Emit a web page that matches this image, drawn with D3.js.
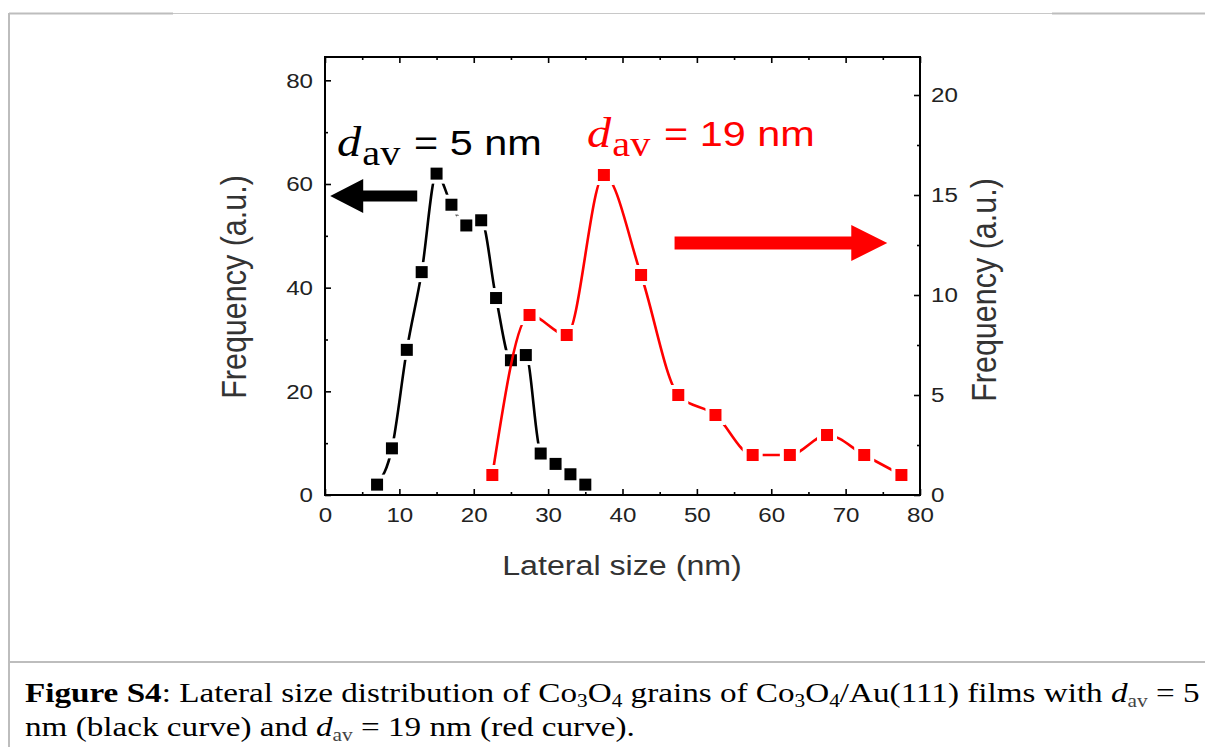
<!DOCTYPE html>
<html><head><meta charset="utf-8">
<script src="https://cdn.jsdelivr.net/npm/d3@7"></script>
<style>body{margin:0;background:#fff} svg{display:block}</style>
</head><body>
<svg id="c" width="1205" height="747"></svg>
<script>
// ---- data ----
const blackX = [7, 9, 11, 13, 15, 17, 19, 21, 23, 25, 27, 29, 31, 33, 35];
const blackY = [2, 9, 28, 43, 62, 56, 52, 53, 38, 26, 27, 8, 6, 4, 2];
const redX = [22.5, 27.5, 32.5, 37.5, 42.5, 47.5, 52.5, 57.5, 62.5, 67.5, 72.5, 77.5];
const redY = [1, 9, 8, 16, 11, 5, 4, 2, 2, 3, 2, 1];
const xTicks = [0, 10, 20, 30, 40, 50, 60, 70, 80];
const xMinor = [5, 15, 25, 35, 45, 55, 65, 75];
const yLeftTicks = [0, 20, 40, 60, 80];
const yLeftMinor = [10, 30, 50, 70];
const yRightTicks = [0, 5, 10, 15, 20];
const yRightMinor = [2.5, 7.5, 12.5, 17.5];
const xLabel = "Lateral size (nm)";
const yLabel = "Frequency (a.u.)";
// arrows in data coords: [x0, x1, y] (left axis for black, right axis for red)
const blackArrow = [12.4, 0.7, 57.7];
const redArrow = [47.0, 75.6, 12.6];

// ---- layout ----
const svg = d3.select("#c");
const L = 325, R = 920, T = 57, B = 495;
const SX = 1.15; // horizontal stretch of the original picture's text
const x = d3.scaleLinear().domain([0, 80]).range([L, R]);
const yL = d3.scaleLinear().domain([0, 84.5]).range([B, T]);
const yR = d3.scaleLinear().domain([0, 21.9]).range([B, T]);
const sans = "'Liberation Sans', Arial, sans-serif";
const serif = "'Liberation Serif', 'Times New Roman', serif";
const stretchAt = (px, py, s) => `translate(${px},${py}) scale(${s},1) translate(${-px},${-py})`;

// page chrome
svg.append("line").attr("x1", 9).attr("x2", 1205).attr("y1", 13.5).attr("y2", 13.5).attr("stroke", "#c8c8c8").attr("stroke-width", 1);
svg.append("line").attr("x1", 9).attr("x2", 173).attr("y1", 13.5).attr("y2", 13.5).attr("stroke", "#bdbdbd").attr("stroke-width", 2);
svg.append("line").attr("x1", 1052).attr("x2", 1205).attr("y1", 13.5).attr("y2", 13.5).attr("stroke", "#bdbdbd").attr("stroke-width", 2);
svg.append("line").attr("x1", 9).attr("x2", 9).attr("y1", 13).attr("y2", 747).attr("stroke", "#bdbdbd").attr("stroke-width", 2);
svg.append("line").attr("x1", 9).attr("x2", 1205).attr("y1", 662).attr("y2", 662).attr("stroke", "#bdbdbd").attr("stroke-width", 2);

// series
const curve = d3.curveMonotoneX;
const ms = 12, gap = 4;
function series(xs, ys, yScale, color) {
  const pts = xs.map((v, i) => [x(v), yScale(ys[i])]);
  svg.append("path").attr("d", d3.line().curve(curve)(pts))
    .attr("fill", "none").attr("stroke", color).attr("stroke-width", 2.6);
  svg.append("g").selectAll("rect").data(pts).join("rect")
    .attr("x", d => d[0] - ms / 2 - gap).attr("y", d => d[1] - ms / 2 - gap)
    .attr("width", ms + 2 * gap).attr("height", ms + 2 * gap).attr("fill", "#fff");
  svg.append("g").selectAll("rect").data(pts).join("rect")
    .attr("x", d => d[0] - ms / 2).attr("y", d => d[1] - ms / 2)
    .attr("width", ms).attr("height", ms).attr("fill", color);
}
series(blackX, blackY, yL, "#000");
series(redX, redY, yR, "#ff0000");

// axes
function styleAxis(g) {
  g.select(".domain").remove();
  g.selectAll("line").attr("stroke", "#000").attr("stroke-width", 1.6);
  g.selectAll("text").attr("font-family", sans).attr("font-size", 21).attr("fill", "#222")
    .attr("transform", function () { return stretchAt(+this.getAttribute("x") || 0, 0, SX); });
}
svg.append("g").attr("transform", `translate(0,${B})`)
  .call(d3.axisBottom(x).tickValues(xTicks).tickSize(-6).tickPadding(12).tickFormat(d3.format("d"))).call(styleAxis);
svg.append("g").attr("transform", `translate(0,${B})`)
  .call(d3.axisBottom(x).tickValues(xMinor).tickSize(-3).tickFormat("")).call(styleAxis);
svg.append("g").attr("transform", `translate(0,${T})`)
  .call(d3.axisTop(x).tickValues(xTicks).tickSize(-6).tickFormat("")).call(styleAxis);
svg.append("g").attr("transform", `translate(0,${T})`)
  .call(d3.axisTop(x).tickValues(xMinor).tickSize(-3).tickFormat("")).call(styleAxis);
svg.append("g").attr("transform", `translate(${L},0)`)
  .call(d3.axisLeft(yL).tickValues(yLeftTicks).tickSize(-6).tickPadding(12).tickFormat(d3.format("d"))).call(styleAxis);
svg.append("g").attr("transform", `translate(${L},0)`)
  .call(d3.axisLeft(yL).tickValues(yLeftMinor).tickSize(-3).tickFormat("")).call(styleAxis);
svg.append("g").attr("transform", `translate(${R},0)`)
  .call(d3.axisRight(yR).tickValues(yRightTicks).tickSize(-6).tickPadding(11).tickFormat(d3.format("d"))).call(styleAxis);
svg.append("g").attr("transform", `translate(${R},0)`)
  .call(d3.axisRight(yR).tickValues(yRightMinor).tickSize(-3).tickFormat("")).call(styleAxis);

// frame
svg.append("rect").attr("x", L).attr("y", T).attr("width", R - L).attr("height", B - T)
  .attr("fill", "none").attr("stroke", "#000").attr("stroke-width", 2);

// axis titles
svg.append("text").attr("x", 622).attr("y", 575).attr("text-anchor", "middle")
  .attr("transform", stretchAt(622, 575, SX))
  .attr("font-family", sans).attr("font-size", 28).attr("fill", "#333").text(xLabel);
svg.append("text").attr("transform", `translate(246,287) scale(${SX},1) rotate(-90)`).attr("text-anchor", "middle")
  .attr("font-family", sans).attr("font-size", 30.5).attr("fill", "#333").text(yLabel);
svg.append("text").attr("transform", `translate(996,290) scale(${SX},1) rotate(-90)`).attr("text-anchor", "middle")
  .attr("font-family", sans).attr("font-size", 30.5).attr("fill", "#333").text(yLabel);

// d_av annotations
function dav(x0, y0, color, rest) {
  const t = svg.append("text").attr("x", x0).attr("y", y0).attr("fill", color)
    .attr("transform", stretchAt(x0, y0, SX));
  t.append("tspan").attr("font-family", serif).attr("font-style", "italic").attr("font-size", 42).text("d");
  t.append("tspan").attr("font-family", serif).attr("font-size", 35).attr("dx", 1).attr("dy", 9).text("av");
  t.append("tspan").attr("font-family", sans).attr("font-size", 36).attr("dx", 2).attr("dy", -10).text(" " + rest);
}
dav(337, 156, "#000", "= 5 nm");
dav(587, 147, "#ff0000", "= 19 nm");

// arrows
function arrow(x0, x1, yv, color, th, hw, hl) {
  const dir = Math.sign(x1 - x0);
  const xb = x1 - dir * hl;
  const p = d3.path();
  p.moveTo(x0, yv - th / 2); p.lineTo(xb, yv - th / 2); p.lineTo(xb, yv - hw);
  p.lineTo(x1, yv); p.lineTo(xb, yv + hw); p.lineTo(xb, yv + th / 2); p.lineTo(x0, yv + th / 2); p.closePath();
  svg.append("path").attr("d", p.toString()).attr("fill", color);
}
arrow(x(blackArrow[0]), x(blackArrow[1]), yL(blackArrow[2]), "#000", 11, 17, 33);
arrow(x(redArrow[0]), x(redArrow[1]), yR(redArrow[2]), "#ff0000", 13, 18, 36);

// caption
const CX = 25, CW = 1175;
const cap = svg.append("g").attr("font-family", serif).attr("font-size", 28).attr("fill", "#000");
function sub(t, s, col) { t.append("tspan").attr("font-size", 18).attr("dy", 5).attr("fill", col || "#000").text(s); }
function up(t, s) { t.append("tspan").attr("dy", -5).text(s); }
const l1 = cap.append("text").attr("x", CX).attr("y", 702);
l1.append("tspan").attr("font-weight", "bold").text("Figure S4");
l1.append("tspan").text(": Lateral size distribution of Co");
sub(l1, "3"); up(l1, "O"); sub(l1, "4");
up(l1, " grains of Co"); sub(l1, "3"); up(l1, "O"); sub(l1, "4");
up(l1, "/Au(111) films with ");
l1.append("tspan").attr("font-style", "italic").text("d");
sub(l1, "av", "#444");
up(l1, " = 5");
const l2 = cap.append("text").attr("x", CX).attr("y", 736);
l2.append("tspan").text("nm (black curve) and ");
l2.append("tspan").attr("font-style", "italic").text("d");
sub(l2, "av", "#444");
up(l2, " = 19 nm (red curve).");
const w1 = l1.node().getComputedTextLength();
const cs = Math.min(1.3, CW / w1);
cap.attr("transform", `translate(${CX},0) scale(${cs},1) translate(${-CX},0)`);
const nSp = (l1.text().match(/ /g) || []).length;
l1.attr("word-spacing", Math.max(0, (CW / cs - w1) / nSp));
</script>
</body></html>
